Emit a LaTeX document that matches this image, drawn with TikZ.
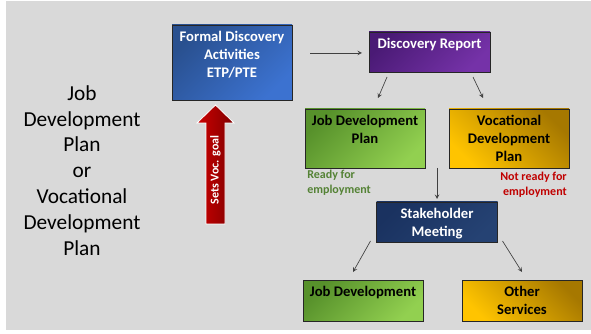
\documentclass[tikz,border=0pt]{standalone}
\usepackage{fontspec}
\setmainfont{Carlito}
\usepackage{tikz}
\usetikzlibrary{arrows.meta, calc}

\definecolor{bggrey}{HTML}{D9D9D9}
\definecolor{fdtop}{HTML}{29508F}
\definecolor{fdbot}{HTML}{3C72D0}
\definecolor{drtop}{HTML}{4A1A75}
\definecolor{drbot}{HTML}{7532A8}
\definecolor{grtop}{HTML}{57912B}
\definecolor{grbot}{HTML}{92D050}
\definecolor{gdtop}{HTML}{A67800}
\definecolor{gdbot}{HTML}{FFC400}
\definecolor{smtop}{HTML}{1A3260}
\definecolor{smbot}{HTML}{254273}
\definecolor{readygreen}{HTML}{548235}
\definecolor{notred}{HTML}{C00000}

\begin{document}
\begin{tikzpicture}[x=0.75pt, y=-0.75pt]
\tikzset{
	box/.style={draw=black!85, line width=0.6pt, inner sep=0pt, outer sep=0pt, minimum width=90pt},
	boxtext/.style={anchor=north, align=center, inner xsep=0pt, inner ysep=4.8pt, font=\fontsize{11}{13.2}\selectfont\bfseries},
	link/.style={->, >=stealth, draw=black!75, line width=0.5pt},
	note/.style={inner sep=0pt, font=\fontsize{9}{11.2}\selectfont\bfseries},
}

% Background
\useasboundingbox (0,0) rectangle (591,334);
\fill[bggrey] (6,1) rectangle (591,330);

% Title on the left
\node[align=center, font=\fontsize{16}{19.4}\selectfont] (title) at (82,170.5) {Job\\Development\\Plan\\or\\Vocational\\Development\\Plan};

% Draw boxes
\node[box, minimum height=56.25pt, top color=fdtop, bottom color=fdbot, shading angle=45] (fd) at (232,62.5) {};
\node[box, minimum width=90.75pt, minimum height=30pt, top color=drtop, bottom color=drbot, shading angle=45] (dr) at (429.5,52) {};
\node[box, minimum height=44.25pt, top color=grtop, bottom color=grbot, shading angle=45] (jdp) at (365,138.5) {};
\node[box, minimum height=44.25pt, top color=gdtop, bottom color=gdbot, shading angle=-45] (vdp) at (509,138.5) {};
\node[box, minimum width=90.75pt, minimum height=30pt, top color=smtop, bottom color=smbot, shading angle=45] (sm) at (437,222) {};
\node[box, minimum height=30.75pt, top color=grtop, bottom color=grbot, shading angle=45] (jd) at (363,300.5) {};
\node[box, minimum height=30.75pt, top color=gdtop, bottom color=gdbot, shading angle=-45] (os) at (522,300.5) {};

% Box texts
\node[boxtext, text=white] (fdtext) at (fd.north) {Formal Discovery\\Activities\\ETP/PTE};
\node[boxtext, text=white] (drtext) at (dr.north) {Discovery Report};
\node[boxtext] (jdptext) at (jdp.north) {Job Development\\Plan};
\node[boxtext] (vdptext) at (vdp.north) {Vocational\\Development\\Plan};
\node[boxtext, text=white] (smtext) at (sm.north) {Stakeholder\\Meeting};
\node[boxtext] (jdtext) at (jd.north) {Job Development};
\node[boxtext] (ostext) at (os.north) {Other\\Services};

% Notes under the plans
\node[note, text=readygreen, anchor=north west, align=left] (ready) at (307,170) {Ready for\\employment};
\node[note, text=notred, anchor=north east, align=right] (notready) at (567,172) {Not ready for\\employment};

% Draw red block arrow
\path[draw=white, line width=0.6pt, left color=red!80!black, right color=red!50!black] (206,224) -- (206,123) -- (197,123) -- (215.5,105) -- (234,123) -- (225,123) -- (225,224) -- cycle;
\node[rotate=90, text=white, font=\fontsize{9}{11}\selectfont\bfseries] (goal) at (215.5,170) {Sets Voc. goal};

% Draw links
\draw[link] ([shift={(18,-9.5)}]fd.east) -- ([shift={(-7,1)}]dr.west);
\draw[link] ([shift={(18,5)}]dr.south west) -- ([shift={(73,-11)}]jdp.north west);
\draw[link] ([shift={(-17,5)}]dr.south east) -- ([shift={(34,-11)}]vdp.north west);
\coordinate (split) at ($(jdp.south east)!0.5!(vdp.south west)$);
\draw[link] (split) -- ([shift={(0,-3)}]sm.north);
\draw[link] ([shift={(-6,-1)}]sm.south west) -- ([shift={(50,-8)}]jd.north west);
\draw[link] ([shift={(5,-1)}]sm.south east) -- ([shift={(60,-8)}]os.north west);

\end{tikzpicture}
\end{document}
